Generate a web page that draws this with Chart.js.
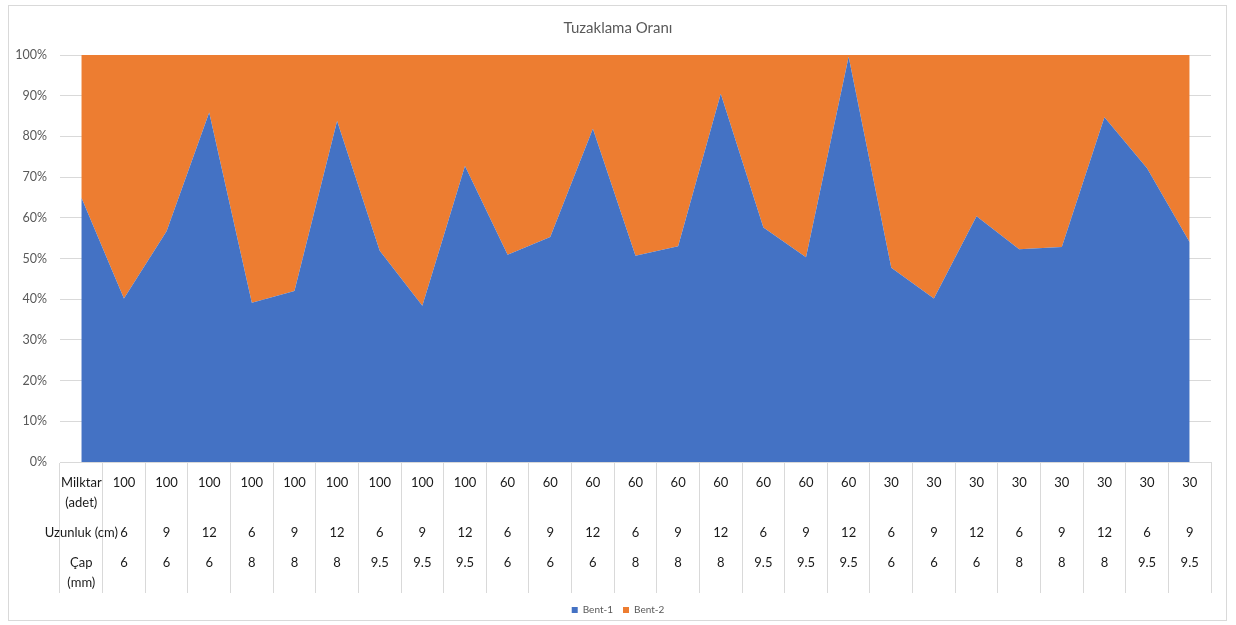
<!DOCTYPE html>
<html>
<head>
<meta charset="utf-8">
<script src="https://cdn.jsdelivr.net/npm/chart.js@4/dist/chart.umd.min.js"></script>
<style>
  html, body { margin: 0; padding: 0; background: #fff; }
  #wrap { position: relative; width: 1236px; height: 625px; }
  #frame { position: absolute; left: 8px; top: 5px; width: 1217px; height: 614px; border: 1px solid #d9d9d9; pointer-events: none; }
  canvas { position: absolute; left: 0; top: 0; }
</style>
</head>
<body>
<div id="wrap">
  <canvas id="c" width="1236" height="625"></canvas>
  <div id="frame"></div>
</div>
<script>
// Category levels (first column holds the row headers)
const milktar = ["Milktar\n(adet)", "100","100","100","100","100","100","100","100","100",
                 "60","60","60","60","60","60","60","60","60",
                 "30","30","30","30","30","30","30","30"];
const uzunluk = ["Uzunluk (cm)", "6","9","12","6","9","12","6","9","12",
                 "6","9","12","6","9","12","6","9","12",
                 "6","9","12","6","9","12","6","9"];
const cap = ["Çap\n(mm)", "6","6","6","8","8","8","9.5","9.5","9.5",
             "6","6","6","8","8","8","9.5","9.5","9.5",
             "6","6","6","8","8","8","9.5","9.5"];

// Series values (percent shares)
const bent1 = [65.0, 40.2, 56.7, 85.9, 39.1, 42.0, 83.8, 51.9, 38.4, 72.7, 50.9, 55.3, 81.9, 50.7,
               53.0, 90.5, 57.6, 50.3, 99.6, 47.7, 40.2, 60.4, 52.3, 52.8, 84.7, 72.2, 54.0];
const bent2 = [35.0, 59.8, 43.3, 14.1, 60.9, 58.0, 16.2, 48.1, 61.6, 27.3, 49.1, 44.7, 18.1, 49.3,
               47.0, 9.5, 42.4, 49.7, 0.4, 52.3, 59.8, 39.6, 47.7, 47.2, 15.3, 27.8, 46.0];

const yTicks = [0, 10, 20, 30, 40, 50, 60, 70, 80, 90, 100];

// Build multi-row tick labels (one array of lines per category)
const labels = milktar.map((m, i) => {
  const mp = m.split("\n");
  const cp = cap[i].split("\n");
  return [mp[0], "", mp[1] || "", "", "", uzunluk[i], "", "", cp[0], "", cp[1] || ""];
});

const FONT = "Lato, 'Open Sans', sans-serif";

new Chart(document.getElementById("c"), {
  type: "line",
  data: {
    labels: labels,
    datasets: [
      { label: "Bent-1", data: bent1, backgroundColor: "#4472C4", borderColor: "#4472C4",
        borderWidth: 0, pointRadius: 0, fill: "origin", tension: 0 },
      { label: "Bent-2", data: bent2, backgroundColor: "#ED7D31", borderColor: "#ED7D31",
        borderWidth: 0, pointRadius: 0, fill: "-1", tension: 0 }
    ]
  },
  options: {
    responsive: false,
    animation: false,
    devicePixelRatio: 1,
    layout: { padding: { left: 0, right: 0, top: 0, bottom: 0 } },
    plugins: {
      title: {
        display: true, text: "Tuzaklama Oranı", color: "#595959",
        font: { family: FONT, size: 15, weight: "normal" },
        padding: { top: 19, bottom: 18 }
      },
      legend: {
        position: "bottom",
        labels: { color: "#595959", font: { family: FONT, size: 10 }, boxWidth: 6, boxHeight: 6, padding: 10 }
      },
      tooltip: { enabled: false }
    },
    scales: {
      x: {
        type: "category",
        offset: true,
        grid: { display: true, offset: true, drawOnChartArea: false, drawTicks: true, tickLength: 131, color: "#d9d9d9" },
        border: { display: true, color: "#d9d9d9" },
        ticks: { autoSkip: false, maxRotation: 0, minRotation: 0, padding: -115, color: "#1a1a1a",
                 font: { family: FONT, size: 13, lineHeight: 10 / 13 } },
        afterFit: (s) => { s.height = 133; }
      },
      y: {
        stacked: true,
        min: 0, max: 100,
        afterBuildTicks: (s) => { s.ticks = yTicks.map(v => ({ value: v })); },
        grid: { color: "#d9d9d9", drawTicks: false },
        border: { display: false },
        ticks: { padding: 13, color: "#595959", font: { family: FONT, size: 12.5 },
                 callback: (v) => v + "%" },
        afterFit: (s) => { s.width = 60; }
      },
      yRight: {
        position: "right",
        min: 0, max: 100,
        grid: { display: false },
        border: { display: false },
        ticks: { display: false },
        afterFit: (s) => { s.width = 25; }
      }
    }
  }
});
</script>
</body>
</html>
